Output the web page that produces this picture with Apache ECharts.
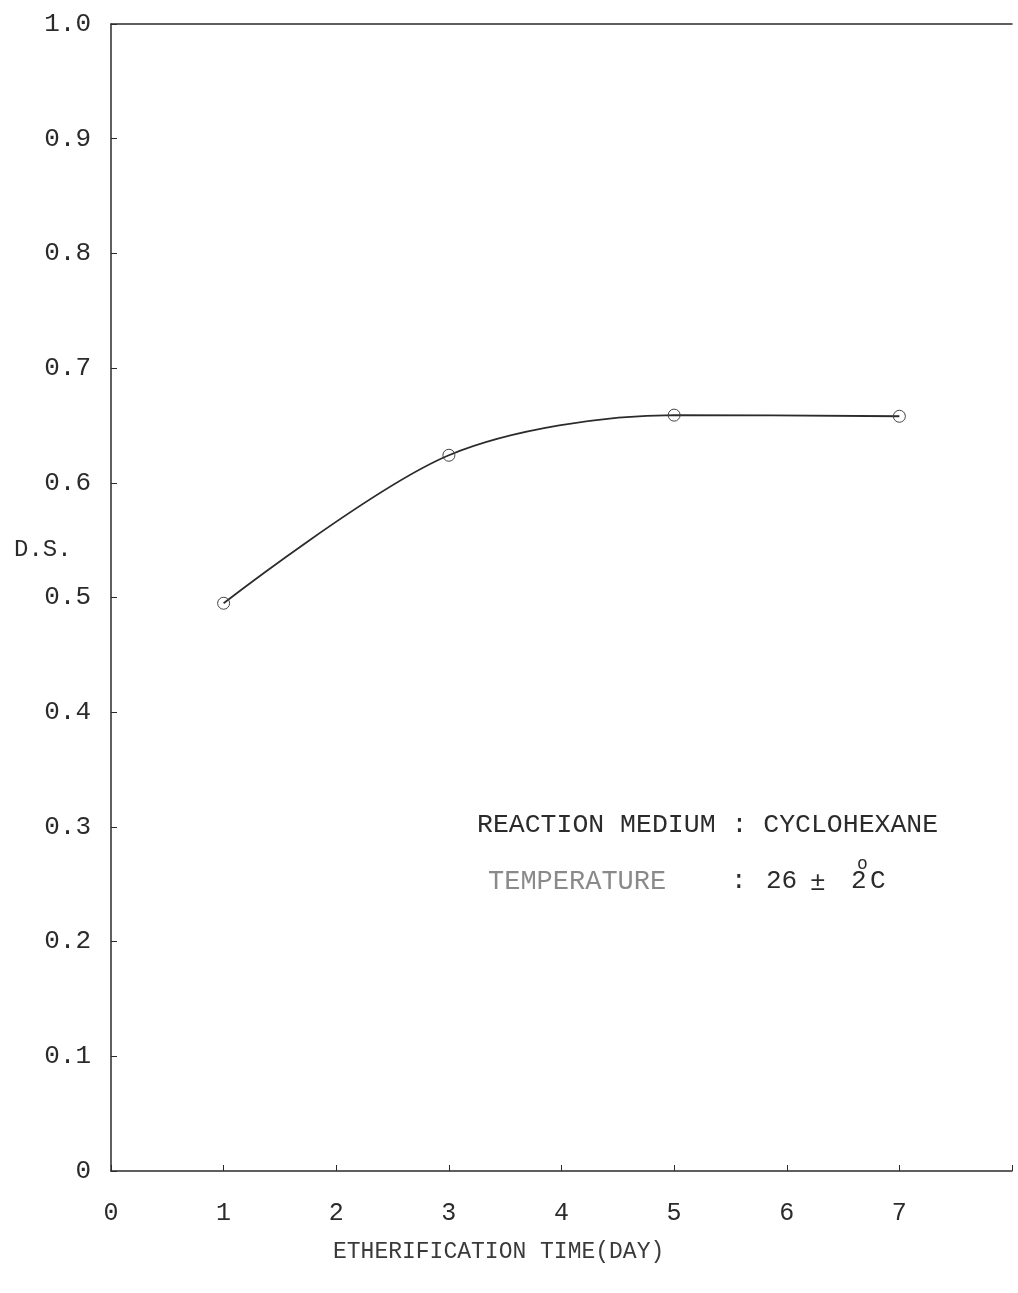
<!DOCTYPE html>
<html>
<head>
<meta charset="utf-8">
<script src="https://cdn.jsdelivr.net/npm/echarts@6/dist/echarts.min.js"></script>
<style>
  html, body { margin: 0; padding: 0; background: #fff; }
  #chart { width: 1018px; height: 1293px; }
</style>
</head>
<body>
<div id="chart"></div>
<script>
// Degree of substitution vs. etherification time
const days = [1, 3, 5, 7];
const dsValues = [0.495, 0.624, 0.659, 0.658];
const xTickLabels = ['0', '1', '2', '3', '4', '5', '6', '7', ''];
const yTickLabels = ['0', '0.1', '0.2', '0.3', '0.4', '0.5', '0.6', '0.7', '0.8', '0.9', '1.0'];

const FONT = '"Liberation Mono", "Courier New", monospace';
const INK = '#2b2b2b';

const chart = echarts.init(document.getElementById('chart'), null, { renderer: 'canvas' });

chart.setOption({
  backgroundColor: '#ffffff',
  animation: false,
  grid: { left: 111, right: 6, top: 24, bottom: 122, containLabel: false },
  xAxis: [{
    type: 'value',
    min: 0, max: 8, interval: 1,
    position: 'bottom',
    axisLine: { show: true, lineStyle: { color: INK, width: 1.5 } },
    axisTick: { show: true, inside: true, length: 6, lineStyle: { color: INK } },
    splitLine: { show: false },
    axisLabel: {
      margin: 30,
      fontFamily: FONT, fontSize: 25, color: INK,
      formatter: v => xTickLabels[Math.round(v)]
    }
  }, {
    // top border of the plotting frame at D.S. = 1.0
    type: 'value',
    min: 0, max: 8,
    position: 'top',
    axisLine: { show: true, lineStyle: { color: INK, width: 1.5 } },
    axisTick: { show: false },
    axisLabel: { show: false },
    splitLine: { show: false }
  }],
  yAxis: {
    type: 'value',
    min: 0, max: 1.0, interval: 0.1,
    axisLine: { show: true, lineStyle: { color: INK, width: 1.5 } },
    axisTick: { show: true, inside: true, length: 6, lineStyle: { color: INK } },
    splitLine: { show: false },
    axisLabel: {
      margin: 20,
      fontFamily: FONT, fontSize: 26, color: INK,
      formatter: v => yTickLabels[Math.round(v * 10)]
    }
  },
  series: [{
    type: 'line',
    xAxisIndex: 0,
    data: days.map((d, i) => [d, dsValues[i]]),
    smooth: 0.3,
    symbol: 'circle',
    symbolSize: 12,
    itemStyle: { color: 'rgba(255,255,255,0)', borderColor: '#444', borderWidth: 1 },
    lineStyle: { color: INK, width: 1.8 },
    z: 3
  }],
  graphic: [
    { type: 'text', left: 14, top: 538,
      style: { text: 'D.S.', font: '24px ' + FONT, fill: INK } },
    { type: 'text', left: 333, top: 1240,
      style: { text: 'ETHERIFICATION TIME(DAY)', font: '23px ' + FONT, fill: '#3a3a3a' } },
    { type: 'text', left: 477, top: 811,
      style: { text: 'REACTION MEDIUM : CYCLOHEXANE', font: '26.5px ' + FONT, fill: INK } },
    { type: 'text', left: 488, top: 868,
      style: { text: 'TEMPERATURE', font: '27px ' + FONT, fill: '#8a8a8a' } },
    { type: 'text', left: 731, top: 868,
      style: { text: ':', font: '26px ' + FONT, fill: INK } },
    { type: 'text', left: 766, top: 868,
      style: { text: '26', font: '26px ' + FONT, fill: INK } },
    { type: 'text', left: 810, top: 870,
      style: { text: '\u00B1', font: '26px ' + FONT, fill: INK } },
    { type: 'text', left: 851, top: 868,
      style: { text: '2', font: '26px ' + FONT, fill: INK } },
    { type: 'text', left: 857, top: 855,
      style: { text: 'o', font: '18px ' + FONT, fill: INK } },
    { type: 'text', left: 870, top: 868,
      style: { text: 'C', font: '26px ' + FONT, fill: INK } }
  ]
});
</script>
</body>
</html>
